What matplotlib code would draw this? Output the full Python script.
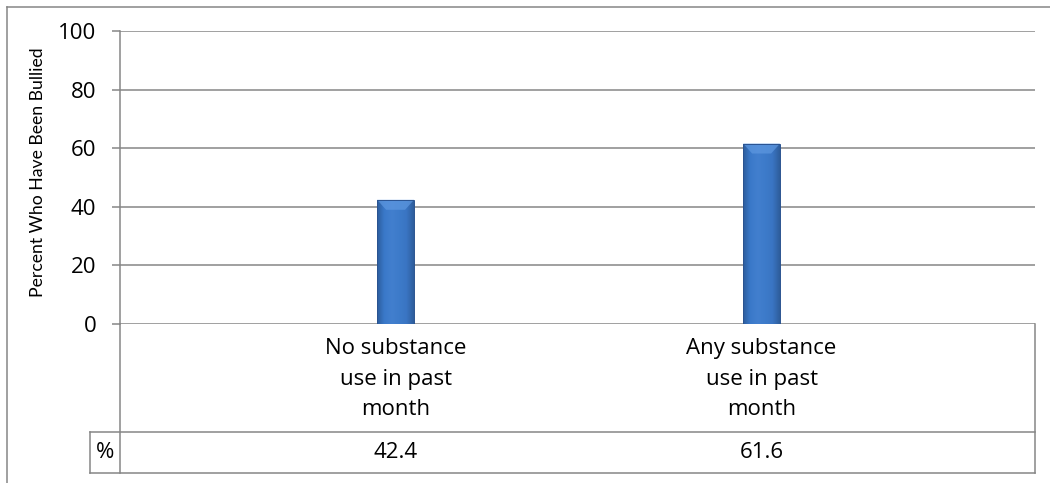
import matplotlib
matplotlib.use("Agg")
import matplotlib.pyplot as plt
import numpy as np
from matplotlib.colors import LinearSegmentedColormap
from matplotlib.patches import Polygon
from matplotlib.lines import Line2D

# data
categories = ["No substance\nuse in past\nmonth", "Any substance\nuse in past\nmonth"]
percent_bullied = [42.4, 61.6]
yticks = [0, 20, 40, 60, 80, 100]
ylabel = "Percent Who Have Been Bullied"
row_label = "%"

plt.rcParams['font.family'] = ['Open Sans', 'DejaVu Sans']
grid_c = '#868686'
W, H = 1050, 483

fig = plt.figure(figsize=(W / 100, H / 100), dpi=100)
fig.patch.set_facecolor('white')

# plot area in pixel terms
left, right, top, zero = 120, 1035, 31, 324
ax = fig.add_axes([left / W, 1 - zero / H, (right - left) / W, (zero - top) / H])

x = np.arange(len(categories))
bar_w = 0.101
bars = ax.bar(x, percent_bullied, width=bar_w, color='#3C79C8', zorder=3, linewidth=0)

ax.set_xlim(-0.753, 1.747)
ax.set_ylim(0, 100)
ax.set_yticks(yticks)
ax.set_xticks([])
ax.yaxis.grid(True, color=grid_c, lw=1.1)
ax.set_axisbelow(True)
ax.tick_params(axis='y', length=6, width=1.1, color=grid_c, labelsize=16, pad=11)
for s in ['top', 'right', 'bottom']:
    ax.spines[s].set_visible(False)
ax.spines['left'].set_color(grid_c)
ax.spines['left'].set_linewidth(1.1)

# shaded, bevelled bar faces
cmap = LinearSegmentedColormap.from_list(
    'barblue', ['#2C5C9C', '#3A79C9', '#427FCE', '#3D7BCA', '#3A75C3', '#2E5D9B'])
grad = np.linspace(0, 1, 256).reshape(1, -1)
px_x = 366.0      # pixels per category unit
px_y = (zero - top) / 100.0
for b in bars:
    x0, w, h = b.get_x(), b.get_width(), b.get_height()
    im = ax.imshow(grad, extent=[x0, x0 + w, 0, h], aspect='auto', cmap=cmap,
                   zorder=4, interpolation='bilinear')
    im.set_clip_path(b)
    dx, dy = 9 / px_x, 10 / px_y
    bevel = Polygon([(x0, h), (x0 + w, h), (x0 + w - dx, h - dy), (x0 + dx, h - dy)],
                    closed=True, facecolor='#5E98E0', edgecolor='none', alpha=0.7, zorder=5)
    ax.add_patch(bevel)
    ax.bar(b.get_x() + w / 2, h, width=w, fill=False, edgecolor='#2A5390',
           linewidth=0.7, zorder=6)

ax.set_xlim(-0.753, 1.747)
ax.set_ylim(0, 100)

# category labels and data table values
xt = ax.get_xaxis_transform()
for xi, cat, v in zip(x, categories, percent_bullied):
    ax.text(xi, -(379 - zero) / (zero - top), cat, transform=xt, ha='center', va='center',
            fontsize=16, linespacing=1.62, clip_on=False)
    ax.text(xi, -(452.5 - zero) / (zero - top), f"{v}", transform=xt, ha='center',
            va='center', fontsize=16, clip_on=False)

fig.text(105 / W, 1 - 452.5 / H, row_label, ha='center', va='center', fontsize=16)
fig.text(38 / W, 1 - 172.5 / H, ylabel, rotation=90, ha='center', va='center',
         fontsize=12.7, family=['Lato', 'DejaVu Sans'])


def fline(xs, ys, lw=1.1):
    fig.add_artist(Line2D([v / W for v in xs], [1 - v / H for v in ys],
                          transform=fig.transFigure, color=grid_c, lw=lw))


# data table grid
fline([90, right], [432, 432])
fline([90, right], [473, 473])
fline([90, 90], [432, 473])
fline([left, left], [zero, 473])
fline([right, right], [zero, 473])

# chart border
fline([7, W], [7, 7])
fline([7, 7], [7, H])

fig.savefig('out.png', dpi=100, facecolor='white')
